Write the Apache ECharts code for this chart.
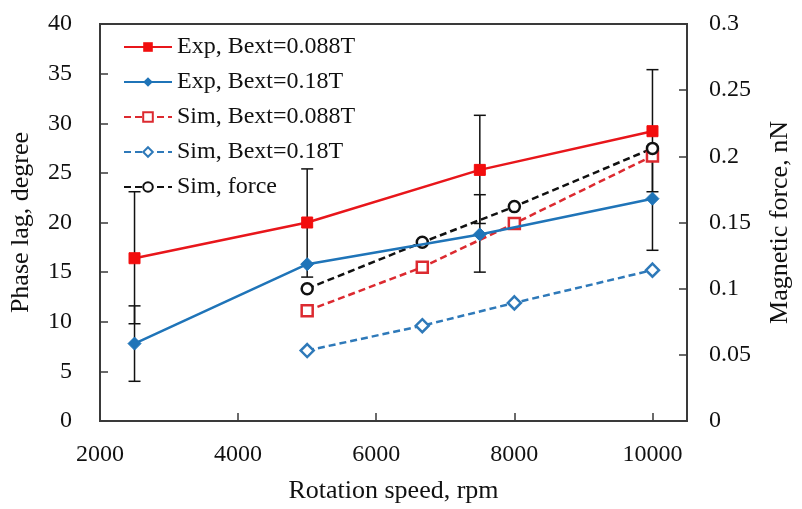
<!DOCTYPE html>
<html>
<head>
<meta charset="utf-8">
<script src="https://cdn.jsdelivr.net/npm/echarts@6/dist/echarts.min.js"></script>
<style>
  html, body { margin: 0; padding: 0; background: #fff; }
  #chart { width: 802px; height: 509px; }
</style>
</head>
<body>
<div id="chart"></div>
<script>
// rotation speed of the measurements and simulations
var expSpeed = [2500, 5000, 7500, 10000];
var simSpeed = [5000, 6667, 8000, 10000];

// phase lag, degree
var expRed  = [16.4, 20.0, 25.3, 29.2];   // Exp, Bext=0.088T
var expBlue = [7.8, 15.8, 18.8, 22.4];    // Exp, Bext=0.18T
var simRed  = [11.1, 15.5, 19.9, 26.7];   // Sim, Bext=0.088T
var simBlue = [7.1, 9.6, 11.9, 15.2];     // Sim, Bext=0.18T

// magnetic force, nN (right axis)
var simForce = [0.100, 0.135, 0.162, 0.206];

// error bars (speed, low, high)
var errSpeed = [2500, 2500, 5000, 7500, 7500, 10000, 10000];
var errLow   = [9.8, 4.0, 14.5, 19.9, 15.0, 23.1, 17.2];
var errHigh  = [23.1, 11.6, 25.4, 30.8, 22.8, 35.4, 27.6];

var legendNames = ['Exp, Bext=0.088T', 'Exp, Bext=0.18T', 'Sim, Bext=0.088T', 'Sim, Bext=0.18T', 'Sim, force'];

var FONT = '"Liberation Serif", "Times New Roman", serif';
var AXIS_COLOR = '#3a3a3a';

function pares(xs, ys) {
	var out = [];
	for (var i = 0; i < xs.length; i++) {
		out.push([xs[i], ys[i]]);
	}
	return out;
}

var dadosErro = [];
for (var i = 0; i < errSpeed.length; i++) {
	dadosErro.push([errSpeed[i], errLow[i], errHigh[i]]);
}

var grafico = echarts.init(document.getElementById('chart'));

var opcoes = {
	animation: false,
	backgroundColor: '#fff',
	textStyle: { fontFamily: FONT },
	grid: {
		left: 100,
		right: 115,
		top: 24,
		bottom: 87,
		show: true,
		borderColor: AXIS_COLOR,
		borderWidth: 2
	},
	legend: {
		data: legendNames,
		orient: 'vertical',
		left: 118,
		top: 30,
		itemWidth: 48,
		itemHeight: 12,
		itemGap: 11,
		textStyle: { fontFamily: FONT, fontSize: 24, color: '#111' }
	},
	xAxis: {
		type: 'value',
		min: 2000,
		max: 10500,
		interval: 2000,
		name: 'Rotation speed, rpm',
		nameLocation: 'middle',
		nameGap: 57,
		nameTextStyle: { fontFamily: FONT, fontSize: 26, color: '#111' },
		axisLine: { lineStyle: { color: AXIS_COLOR, width: 2 } },
		axisTick: { inside: true, length: 8, lineStyle: { color: AXIS_COLOR, width: 1.5 } },
		axisLabel: {
			fontFamily: FONT, fontSize: 24, color: '#111', margin: 22, showMaxLabel: false,
			formatter: function (v) { return String(v); }
		},
		splitLine: { show: false }
	},
	yAxis: [
		{
			type: 'value',
			min: 0,
			max: 40,
			interval: 5,
			name: 'Phase lag, degree',
			nameLocation: 'middle',
			nameGap: 66,
			nameTextStyle: { fontFamily: FONT, fontSize: 26, color: '#111' },
			axisLine: { show: true, lineStyle: { color: AXIS_COLOR, width: 2 } },
			axisTick: { show: true, inside: true, length: 8, lineStyle: { color: AXIS_COLOR, width: 1.5 } },
			axisLabel: { fontFamily: FONT, fontSize: 24, color: '#111', margin: 28 },
			splitLine: { show: false }
		},
		{
			type: 'value',
			min: 0,
			max: 0.3,
			interval: 0.05,
			name: 'Magnetic force, nN',
			nameLocation: 'middle',
			nameGap: 80,
			nameRotate: 90,
			nameTextStyle: { fontFamily: FONT, fontSize: 26, color: '#111' },
			axisLine: { show: true, lineStyle: { color: AXIS_COLOR, width: 2 } },
			axisTick: { show: true, inside: true, length: 8, lineStyle: { color: AXIS_COLOR, width: 1.5 } },
			axisLabel: { fontFamily: FONT, fontSize: 24, color: '#111', margin: 22 },
			splitLine: { show: false }
		}
	],
	series: [
		{
			// barras de erro
			name: 'erro',
			type: 'custom',
			z: 1,
			data: dadosErro,
			renderItem: function (params, api) {
				var x = api.value(0);
				var baixo = api.coord([x, api.value(1)]);
				var alto = api.coord([x, api.value(2)]);
				var w = 6;
				var estilo = { stroke: '#111', lineWidth: 1.5 };
				return {
					type: 'group',
					children: [
						{ type: 'line', shape: { x1: baixo[0], y1: baixo[1], x2: alto[0], y2: alto[1] }, style: estilo },
						{ type: 'line', shape: { x1: baixo[0] - w, y1: baixo[1], x2: baixo[0] + w, y2: baixo[1] }, style: estilo },
						{ type: 'line', shape: { x1: alto[0] - w, y1: alto[1], x2: alto[0] + w, y2: alto[1] }, style: estilo }
					]
				};
			}
		},
		{
			name: 'Exp, Bext=0.088T',
			type: 'line',
			z: 5,
			data: pares(expSpeed, expRed),
			symbol: 'rect',
			symbolSize: 11,
			lineStyle: { color: '#e8161b', width: 2.5 },
			itemStyle: { color: '#f20d0d', borderColor: '#f20d0d' }
		},
		{
			name: 'Exp, Bext=0.18T',
			type: 'line',
			z: 5,
			data: pares(expSpeed, expBlue),
			symbol: 'diamond',
			symbolSize: 13,
			lineStyle: { color: '#1f74b8', width: 2.5 },
			itemStyle: { color: '#1f74b8', borderColor: '#1f74b8' }
		},
		{
			name: 'Sim, Bext=0.088T',
			type: 'line',
			z: 4,
			data: pares(simSpeed, simRed),
			symbol: 'rect',
			symbolSize: 11,
			lineStyle: { color: '#dc2a30', width: 2.5, type: [7, 4] },
			itemStyle: { color: '#fff', borderColor: '#dc2a30', borderWidth: 2.5 }
		},
		{
			name: 'Sim, Bext=0.18T',
			type: 'line',
			z: 4,
			data: pares(simSpeed, simBlue),
			symbol: 'diamond',
			symbolSize: 13,
			lineStyle: { color: '#2e79b9', width: 2.5, type: [7, 4] },
			itemStyle: { color: '#fff', borderColor: '#2e79b9', borderWidth: 2.5 }
		},
		{
			name: 'Sim, force',
			type: 'line',
			yAxisIndex: 1,
			z: 4,
			data: pares(simSpeed, simForce),
			symbol: 'circle',
			symbolSize: 11,
			lineStyle: { color: '#111', width: 2.5, type: [7, 4] },
			itemStyle: { color: '#fff', borderColor: '#111', borderWidth: 2.5 }
		}
	]
};

grafico.setOption(opcoes);

window.addEventListener('resize', function () {
	grafico.resize();
});
</script>
</body>
</html>
